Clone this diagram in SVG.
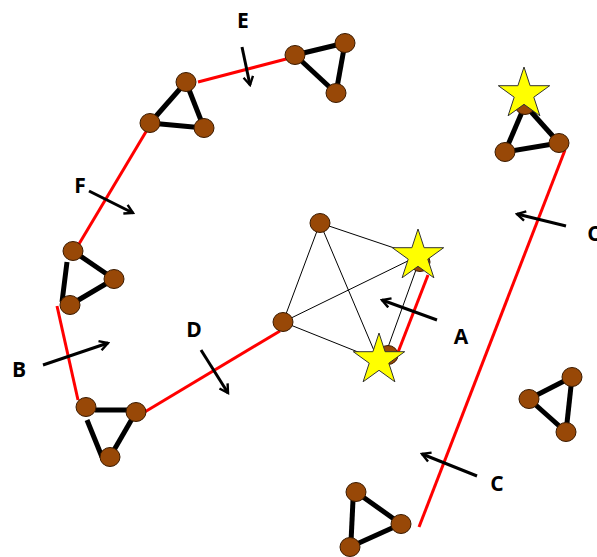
<svg xmlns="http://www.w3.org/2000/svg" width="597" height="557" viewBox="0 0 597 557">
<style>
.red{stroke:#ff0000;stroke-width:3;fill:none}
.thin{stroke:#000;stroke-width:1;fill:none}
.edge{stroke:#000;stroke-width:5;fill:none}
.arr{stroke:#000;stroke-width:3;fill:none;marker-end:url(#ah)}
.node{fill:#984807;stroke:#3a1a00;stroke-width:1}
.star{fill:#ffff00;stroke:#333;stroke-width:1}
.lbl{font-family:"Open Sans","Liberation Sans",sans-serif;font-weight:bold;font-size:21px;fill:#000;text-anchor:middle}
</style>
<defs>
<marker id="ah" viewBox="0 0 10 10" refX="8" refY="5" markerWidth="12" markerHeight="12" markerUnits="userSpaceOnUse" orient="auto">
<path d="M1,1 L8,5 L1,9" fill="none" stroke="#000" stroke-width="2"/>
</marker>
<polygon id="st" points="0,-27 6.1,-8.3 25.7,-8.3 9.8,3.2 15.9,21.8 0,10.3 -15.9,21.8 -9.8,3.2 -25.7,-8.3 -6.1,-8.3"/>
</defs>
<g id="connectors">
<line class="red" x1="198" y1="82" x2="290" y2="58"/>
<line class="red" x1="150" y1="125" x2="76" y2="249"/>
<line class="red" x1="57" y1="306" x2="78" y2="400"/>
<line class="red" x1="143" y1="413" x2="280" y2="331"/>
<line class="red" x1="428" y1="275" x2="395" y2="360"/>
<line class="red" x1="565" y1="150" x2="419" y2="527"/>
<line class="thin" x1="320" y1="223" x2="283" y2="322"/>
<line class="thin" x1="320" y1="223" x2="418" y2="256"/>
<line class="thin" x1="320" y1="223" x2="378" y2="360"/>
<line class="thin" x1="283" y1="322" x2="418" y2="256"/>
<line class="thin" x1="283" y1="322" x2="378" y2="360"/>
<line class="thin" x1="417" y1="267" x2="387" y2="350"/>
<line class="arr" x1="242" y1="47" x2="250" y2="85"/>
<line class="arr" x1="89" y1="191" x2="133" y2="213"/>
<line class="arr" x1="43" y1="365" x2="108" y2="343"/>
<line class="arr" x1="201" y1="350" x2="228" y2="393"/>
<line class="arr" x1="437" y1="320" x2="382" y2="300"/>
<line class="arr" x1="566" y1="226" x2="517" y2="214"/>
<line class="arr" x1="477" y1="476" x2="422" y2="454"/>
</g>
<g id="tri1">
<line class="edge" x1="186" y1="82" x2="150" y2="123"/>
<line class="edge" x1="186" y1="82" x2="204" y2="128"/>
<line class="edge" x1="150" y1="123" x2="204" y2="128"/>
<ellipse class="node" cx="186" cy="82" rx="10" ry="9.5"/>
<ellipse class="node" cx="150" cy="123" rx="10" ry="9.5"/>
<ellipse class="node" cx="204" cy="128" rx="10" ry="9.5"/>
</g>
<g id="tri2">
<line class="edge" x1="295" y1="55" x2="345" y2="43"/>
<line class="edge" x1="345" y1="43" x2="336" y2="93"/>
<line class="edge" x1="295" y1="55" x2="336" y2="93"/>
<ellipse class="node" cx="295" cy="55" rx="10" ry="9.5"/>
<ellipse class="node" cx="345" cy="43" rx="10" ry="9.5"/>
<ellipse class="node" cx="336" cy="93" rx="10" ry="9.5"/>
</g>
<g id="tri3">
<line class="edge" x1="73" y1="251" x2="114" y2="279"/>
<line class="edge" x1="114" y1="279" x2="70" y2="305"/>
<line class="edge" x1="67" y1="262" x2="62" y2="302"/>
<ellipse class="node" cx="73" cy="251" rx="10" ry="9.5"/>
<ellipse class="node" cx="114" cy="279" rx="10" ry="9.5"/>
<ellipse class="node" cx="70" cy="305" rx="10" ry="9.5"/>
</g>
<g id="tri4">
<line class="edge" x1="95" y1="410" x2="130" y2="410"/>
<line class="edge" x1="136" y1="412" x2="110" y2="457"/>
<line class="edge" x1="87" y1="420" x2="102" y2="457"/>
<ellipse class="node" cx="86" cy="407" rx="10" ry="9.5"/>
<ellipse class="node" cx="136" cy="412" rx="10" ry="9.5"/>
<ellipse class="node" cx="110" cy="457" rx="10" ry="9.5"/>
</g>
<g id="center">
<ellipse class="node" cx="320" cy="223" rx="10" ry="9.5"/>
<ellipse class="node" cx="283" cy="322" rx="10" ry="9.5"/>
<ellipse class="node" cx="420" cy="262" rx="10" ry="9.5"/>
<ellipse class="node" cx="388" cy="355" rx="10" ry="9.5"/>
<use href="#st" class="star" x="418" y="256"/>
<use href="#st" class="star" x="379" y="360"/>
</g>
<g id="tri5">
<line class="edge" x1="525" y1="105" x2="505" y2="152"/>
<line class="edge" x1="525" y1="105" x2="559" y2="143"/>
<line class="edge" x1="505" y1="152" x2="559" y2="143"/>
<ellipse class="node" cx="525" cy="105" rx="10" ry="9.5"/>
<ellipse class="node" cx="505" cy="152" rx="10" ry="9.5"/>
<ellipse class="node" cx="559" cy="143" rx="10" ry="9.5"/>
<use href="#st" class="star" x="524" y="94"/>
</g>
<g id="tri6">
<line class="edge" x1="572" y1="377" x2="529" y2="399"/>
<line class="edge" x1="529" y1="399" x2="566" y2="432"/>
<line class="edge" x1="572" y1="377" x2="566" y2="432"/>
<ellipse class="node" cx="572" cy="377" rx="10" ry="9.5"/>
<ellipse class="node" cx="529" cy="399" rx="10" ry="9.5"/>
<ellipse class="node" cx="566" cy="432" rx="10" ry="9.5"/>
</g>
<g id="tri7">
<line class="edge" x1="356" y1="492" x2="401" y2="524"/>
<line class="edge" x1="401" y1="524" x2="350" y2="547"/>
<line class="edge" x1="353" y1="500" x2="351" y2="542"/>
<ellipse class="node" cx="356" cy="492" rx="10" ry="9.5"/>
<ellipse class="node" cx="401" cy="524" rx="10" ry="9.5"/>
<ellipse class="node" cx="350" cy="547" rx="10" ry="9.5"/>
</g>
<g id="labels">
<text class="lbl" x="243" y="28">E</text>
<text class="lbl" x="80" y="193">F</text>
<text class="lbl" x="19" y="377">B</text>
<text class="lbl" x="194" y="337">D</text>
<text class="lbl" x="461" y="344">A</text>
<text class="lbl" x="594" y="241">C</text>
<text class="lbl" x="497" y="491">C</text>
</g>
</svg>
